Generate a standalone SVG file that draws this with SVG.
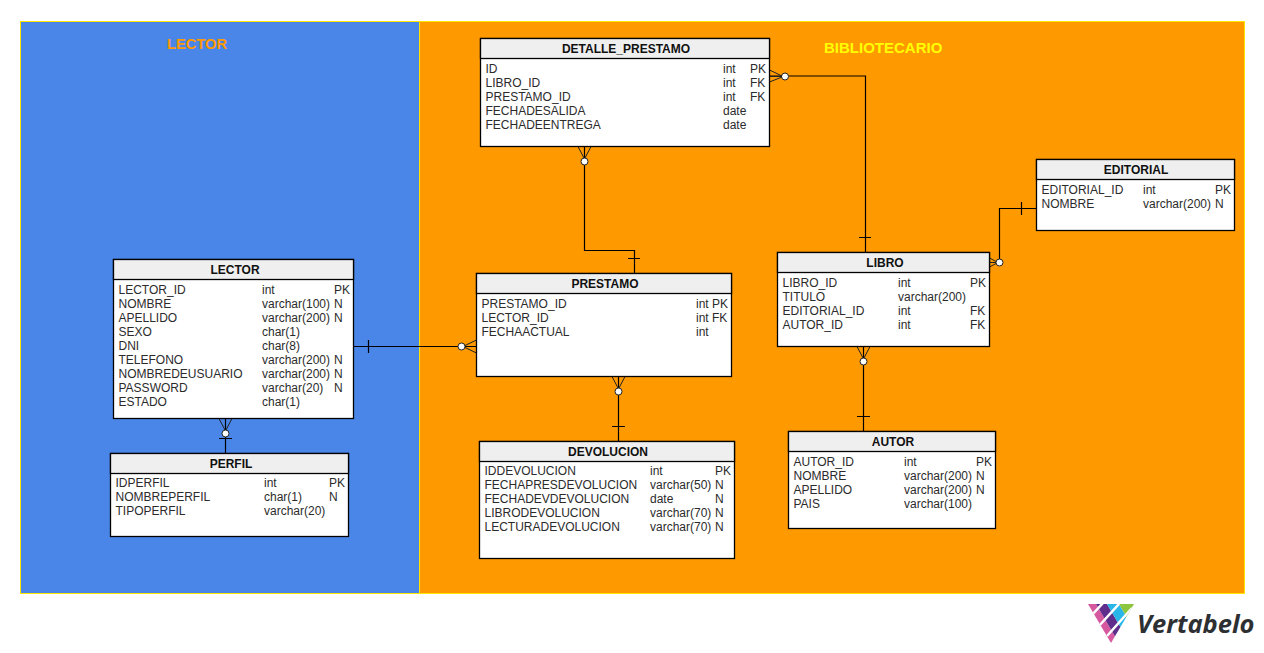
<svg xmlns="http://www.w3.org/2000/svg" width="1264" height="653" viewBox="0 0 1264 653">
<style>
text{font-family:"Liberation Sans",Arial,sans-serif;font-size:12px;fill:#2b2b2b}
.t{font-weight:bold;fill:#111;text-anchor:middle}
.z{font-weight:bold;font-size:14.7px}
.b{fill:#fff;stroke:#000;stroke-width:1.3}
.h{fill:#efefef;stroke:#000;stroke-width:1.3}
.c{fill:none;stroke:#000;stroke-width:1.2}
.f{fill:none;stroke:#222;stroke-width:1}
.o{fill:#fff;stroke:#222;stroke-width:1}
</style>
<defs><clipPath id="tri"><polygon points="1088,604 1134,604 1111,643"/></clipPath></defs>
<rect x="0" y="0" width="1264" height="653" fill="#fff"/>
<g id="zones">
<rect x="20.500" y="21.500" width="399" height="572" fill="#4a86e8" stroke="#ffe600"/>
<rect x="419.500" y="21.500" width="825" height="572" fill="#ff9900" stroke="#ffe600"/>
<text class="z" x="167" y="49" style="fill:#ff9900">LECTOR</text>
<text class="z" x="824" y="53" style="fill:#ffff00;font-size:15px">BIBLIOTECARIO</text>
</g>
<g id="connectors">
<path class="c" d="M769.500 76H865.500V252.500M859 237.500H871"/>
<circle class="o" cx="785" cy="76.500" r="3.500"/>
<path class="f" d="M769.500 70L782 76M769.500 82L782 77M769.500 76.500H782"/>
<path class="c" d="M584.500 146.500V250.500H634.500V273.500M628 258.500H640"/>
<circle class="o" cx="584.500" cy="161.500" r="3.500"/>
<path class="f" d="M578 146.500L584 158M591 146.500L585 158"/>
<path class="c" d="M353.500 346.500H476.500M368.500 340V353"/>
<circle class="o" cx="461.500" cy="346.500" r="3.500"/>
<path class="f" d="M476.500 340L465 345.500M476.500 353L465 347.500"/>
<path class="c" d="M618.500 376.500V441.500M612 426.500H625"/>
<circle class="o" cx="618.500" cy="391.500" r="3.500"/>
<path class="f" d="M612 376.500L618 388M625 376.500L619 388"/>
<path class="c" d="M863.500 346.500V431.500M857 416.500H870"/>
<circle class="o" cx="863.500" cy="361.500" r="3.500"/>
<path class="f" d="M857 346.500L863 358M870 346.500L864 358"/>
<path class="c" d="M1036.500 208.500H999.500V262.500M1021.500 202V215"/>
<circle class="o" cx="999.500" cy="262.500" r="3.500"/>
<path class="f" d="M989.500 258L996 261.500M989.500 267L996 263.500M989.500 262.500H996"/>
<path class="c" d="M225.500 418.500V453.500M219 438.500H232"/>
<circle class="o" cx="225.500" cy="433.500" r="3.500"/>
<path class="f" d="M219 418.500L225 430M232 418.500L226 430"/>
</g>
<g id="detalle_prestamo">
<rect class="b" x="480.500" y="38.500" width="289" height="108"/>
<rect class="h" x="480.500" y="38.500" width="289" height="20"/>
<text class="t" x="626" y="53">DETALLE_PRESTAMO</text>
<text x="485.500" y="73">ID</text><text x="723" y="73">int</text><text x="750" y="73">PK</text>
<text x="485.500" y="87">LIBRO_ID</text><text x="723" y="87">int</text><text x="750" y="87">FK</text>
<text x="485.500" y="101">PRESTAMO_ID</text><text x="723" y="101">int</text><text x="750" y="101">FK</text>
<text x="485.500" y="115">FECHADESALIDA</text><text x="723" y="115">date</text>
<text x="485.500" y="129">FECHADEENTREGA</text><text x="723" y="129">date</text>
</g>
<g id="editorial">
<rect class="b" x="1036.500" y="159.500" width="198" height="71"/>
<rect class="h" x="1036.500" y="159.500" width="198" height="20"/>
<text class="t" x="1136" y="174">EDITORIAL</text>
<text x="1041.500" y="194">EDITORIAL_ID</text><text x="1143" y="194">int</text><text x="1215" y="194">PK</text>
<text x="1041.500" y="208">NOMBRE</text><text x="1143" y="208">varchar(200)</text><text x="1215" y="208">N</text>
</g>
<g id="libro">
<rect class="b" x="777.500" y="252.500" width="212" height="94"/>
<rect class="h" x="777.500" y="252.500" width="212" height="20"/>
<text class="t" x="885" y="267">LIBRO</text>
<text x="782.500" y="287">LIBRO_ID</text><text x="898" y="287">int</text><text x="970" y="287">PK</text>
<text x="782.500" y="301">TITULO</text><text x="898" y="301">varchar(200)</text>
<text x="782.500" y="315">EDITORIAL_ID</text><text x="898" y="315">int</text><text x="970" y="315">FK</text>
<text x="782.500" y="329">AUTOR_ID</text><text x="898" y="329">int</text><text x="970" y="329">FK</text>
</g>
<g id="lector">
<rect class="b" x="113.500" y="259.500" width="240" height="159"/>
<rect class="h" x="113.500" y="259.500" width="240" height="20"/>
<text class="t" x="235" y="274">LECTOR</text>
<text x="118.500" y="294">LECTOR_ID</text><text x="262" y="294">int</text><text x="334" y="294">PK</text>
<text x="118.500" y="308">NOMBRE</text><text x="262" y="308">varchar(100)</text><text x="334" y="308">N</text>
<text x="118.500" y="322">APELLIDO</text><text x="262" y="322">varchar(200)</text><text x="334" y="322">N</text>
<text x="118.500" y="336">SEXO</text><text x="262" y="336">char(1)</text>
<text x="118.500" y="350">DNI</text><text x="262" y="350">char(8)</text>
<text x="118.500" y="364">TELEFONO</text><text x="262" y="364">varchar(200)</text><text x="334" y="364">N</text>
<text x="118.500" y="378">NOMBREDEUSUARIO</text><text x="262" y="378">varchar(200)</text><text x="334" y="378">N</text>
<text x="118.500" y="392">PASSWORD</text><text x="262" y="392">varchar(20)</text><text x="334" y="392">N</text>
<text x="118.500" y="406">ESTADO</text><text x="262" y="406">char(1)</text>
</g>
<g id="prestamo">
<rect class="b" x="476.500" y="273.500" width="255" height="103"/>
<rect class="h" x="476.500" y="273.500" width="255" height="20"/>
<text class="t" x="605" y="288">PRESTAMO</text>
<text x="481.500" y="308">PRESTAMO_ID</text><text x="696" y="308">int</text><text x="712" y="308">PK</text>
<text x="481.500" y="322">LECTOR_ID</text><text x="696" y="322">int</text><text x="712" y="322">FK</text>
<text x="481.500" y="336">FECHAACTUAL</text><text x="696" y="336">int</text>
</g>
<g id="perfil">
<rect class="b" x="110.500" y="453.500" width="238" height="83"/>
<rect class="h" x="110.500" y="453.500" width="238" height="20"/>
<text class="t" x="231" y="468">PERFIL</text>
<text x="115.500" y="487">IDPERFIL</text><text x="264" y="487">int</text><text x="329" y="487">PK</text>
<text x="115.500" y="501">NOMBREPERFIL</text><text x="264" y="501">char(1)</text><text x="329" y="501">N</text>
<text x="115.500" y="515">TIPOPERFIL</text><text x="264" y="515">varchar(20)</text>
</g>
<g id="devolucion">
<rect class="b" x="479.500" y="441.500" width="255" height="117"/>
<rect class="h" x="479.500" y="441.500" width="255" height="20"/>
<text class="t" x="608" y="456">DEVOLUCION</text>
<text x="484.500" y="475">IDDEVOLUCION</text><text x="650" y="475">int</text><text x="715" y="475">PK</text>
<text x="484.500" y="489">FECHAPRESDEVOLUCION</text><text x="650" y="489">varchar(50)</text><text x="715" y="489">N</text>
<text x="484.500" y="503">FECHADEVDEVOLUCION</text><text x="650" y="503">date</text><text x="715" y="503">N</text>
<text x="484.500" y="517">LIBRODEVOLUCION</text><text x="650" y="517">varchar(70)</text><text x="715" y="517">N</text>
<text x="484.500" y="531">LECTURADEVOLUCION</text><text x="650" y="531">varchar(70)</text><text x="715" y="531">N</text>
</g>
<g id="autor">
<rect class="b" x="788.500" y="431.500" width="207" height="97"/>
<rect class="h" x="788.500" y="431.500" width="207" height="20"/>
<text class="t" x="893" y="446">AUTOR</text>
<text x="793.500" y="466">AUTOR_ID</text><text x="904" y="466">int</text><text x="976" y="466">PK</text>
<text x="793.500" y="480">NOMBRE</text><text x="904" y="480">varchar(200)</text><text x="976" y="480">N</text>
<text x="793.500" y="494">APELLIDO</text><text x="904" y="494">varchar(200)</text><text x="976" y="494">N</text>
<text x="793.500" y="508">PAIS</text><text x="904" y="508">varchar(100)</text>
</g>
<g id="logo">
<g clip-path="url(#tri)">
<polygon points="1088,604 1096,604 1120,645 1088,645" fill="#d6589f"/>
<polygon points="1096,604 1107,604 1131,645 1120,645" fill="#5f2d8c"/>
<polygon points="1107,604 1119,604 1143,645 1131,645" fill="#29b6e8"/>
<polygon points="1119,604 1136,604 1143,645" fill="#8cc63f"/>
<path d="M1103 603L1091 616M1119 604L1098 627M1132 608L1107 636" fill="none" stroke="#fff" stroke-width="2.500"/>
</g>
<text x="1137" y="633" style="font-family:'Open Sans','Noto Sans',sans-serif;font-size:25.500px;font-weight:700;font-style:italic;fill:#2d2f33">Vertabelo</text>
</g>
</svg>
